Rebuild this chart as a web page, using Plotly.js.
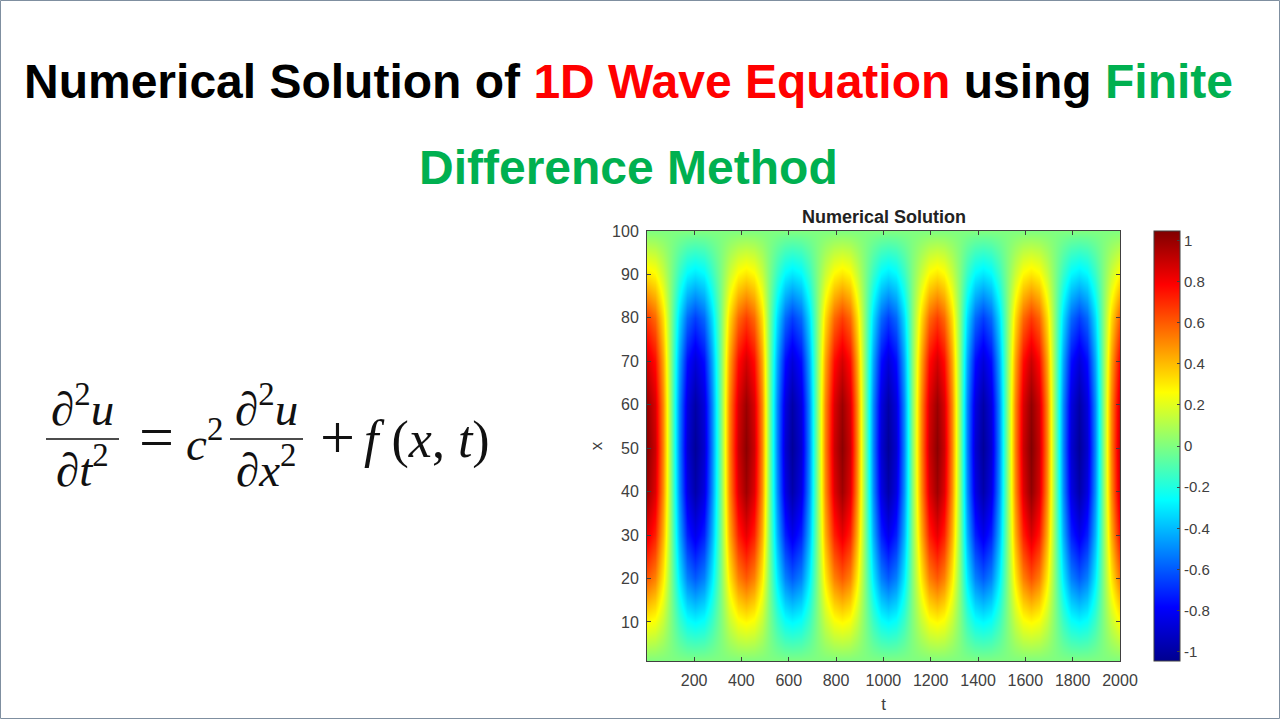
<!DOCTYPE html>
<html>
<head>
<meta charset="utf-8">
<script src="https://cdn.plot.ly/plotly-3.0.1.min.js"></script>
<style>html,body{margin:0;padding:0;background:#fff}#chart{width:1280px;height:720px}</style>
</head>
<body>
<div id="chart"></div>
<script>
const tValues = [1,35,69,103,137,171,205,241,277,313,348,384,420,453,485,518,550,583,615,650,685,720,755,790,825,858,890,923,955,988,1020,1054,1088,1123,1157,1191,1225,1258,1290,1323,1355,1388,1420,1454,1488,1523,1557,1591,1625,1658,1692,1725,1758,1792,1825,1859,1893,1928,1962,2000];
const xValues = [1,10,20,30,40,50,60,70,80,90,100];
const u_x1 = [0,0,0,0,0,0,0,0,0,0,0,0, 0,0,0,0,0,0,0,0,0,0,0,0, 0,0,0,0,0,0,0,0,0,0,0,0, 0,0,0,0,0,0,0,0,0,0,0,0, 0,0,0,0,0,0,0,0,0,0,0,0];
const u_x10 = [.27,.24,.14,0,-.14,-.24,-.27,-.24,-.14,0,.14,.24, .27,.24,.14,0,-.14,-.24,-.27,-.24,-.14,0,.14,.24, .27,.24,.14,0,-.14,-.24,-.27,-.24,-.14,0,.14,.24, .27,.24,.14,0,-.14,-.24,-.27,-.24,-.14,0,.14,.24, .27,.24,.14,0,-.14,-.24,-.27,-.24,-.14,0,.14,.26];
const u_x20 = [.60,.52,.30,0,-.30,-.52,-.60,-.52,-.30,0,.30,.52, .60,.52,.30,0,-.30,-.52,-.60,-.52,-.30,0,.30,.52, .60,.52,.30,0,-.30,-.52,-.60,-.52,-.30,0,.30,.52, .60,.52,.30,0,-.30,-.52,-.60,-.52,-.30,0,.30,.52, .62,.53,.30,0,-.30,-.52,-.60,-.52,-.30,0,.30,.55];
const u_x30 = [.83,.72,.42,0,-.42,-.72,-.83,-.72,-.42,0,.42,.72, .83,.72,.42,0,-.42,-.72,-.83,-.72,-.42,0,.42,.72, .83,.72,.42,0,-.42,-.72,-.83,-.72,-.42,0,.42,.72, .83,.72,.42,0,-.42,-.72,-.83,-.72,-.42,0,.42,.72, .86,.74,.42,0,-.42,-.72,-.83,-.72,-.42,0,.42,.77];
const u_x40 = [.98,.85,.49,0,-.49,-.85,-.98,-.85,-.49,0,.49,.85, .98,.85,.49,0,-.49,-.85,-.98,-.85,-.49,0,.49,.85, .98,.85,.49,0,-.49,-.85,-.98,-.85,-.49,0,.49,.85, .98,.85,.49,0,-.49,-.85,-.98,-.85,-.49,0,.49,.85, 1.01,.87,.49,0,-.49,-.85,-.98,-.85,-.49,0,.49,.90];
const u_x50 = [1.02,.89,.51,0,-.51,-.89,-1.02,-.89,-.51,0,.51,.89, 1.02,.89,.51,0,-.51,-.89,-1.02,-.89,-.51,0,.51,.89, 1.02,.89,.51,0,-.51,-.89,-1.02,-.89,-.51,0,.51,.89, 1.02,.89,.51,0,-.51,-.89,-1.02,-.89,-.51,0,.51,.89, 1.04,.90,.51,0,-.51,-.89,-1.02,-.89,-.51,0,.51,.93];
const u_x60 = [.99,.86,.50,0,-.50,-.86,-.99,-.86,-.50,0,.50,.86, .99,.86,.50,0,-.50,-.86,-.99,-.86,-.50,0,.50,.86, .99,.86,.50,0,-.50,-.86,-.99,-.86,-.50,0,.50,.86, .99,.86,.50,0,-.50,-.86,-.99,-.86,-.50,0,.50,.86, 1.01,.88,.50,0,-.50,-.86,-.99,-.86,-.50,0,.50,.90];
const u_x70 = [.87,.76,.44,0,-.44,-.76,-.87,-.76,-.44,0,.44,.76, .87,.76,.44,0,-.44,-.76,-.87,-.76,-.44,0,.44,.76, .87,.76,.44,0,-.44,-.76,-.87,-.76,-.44,0,.44,.76, .87,.76,.44,0,-.44,-.76,-.87,-.76,-.44,0,.44,.76, .89,.77,.44,0,-.44,-.76,-.87,-.76,-.44,0,.44,.80];
const u_x80 = [.66,.57,.33,0,-.33,-.57,-.66,-.57,-.33,0,.33,.57, .66,.57,.33,0,-.33,-.57,-.66,-.57,-.33,0,.33,.57, .66,.57,.33,0,-.33,-.57,-.66,-.57,-.33,0,.33,.57, .66,.57,.33,0,-.33,-.57,-.66,-.57,-.33,0,.33,.57, .67,.58,.33,0,-.33,-.57,-.66,-.57,-.33,0,.33,.60];
const u_x90 = [.31,.27,.15,0,-.15,-.27,-.31,-.27,-.15,0,.15,.27, .31,.27,.15,0,-.15,-.27,-.31,-.27,-.15,0,.15,.27, .31,.27,.15,0,-.15,-.27,-.31,-.27,-.15,0,.15,.27, .31,.27,.15,0,-.15,-.27,-.31,-.27,-.15,0,.15,.27, .31,.27,.15,0,-.15,-.27,-.31,-.27,-.15,0,.15,.28];
const u_x100 = [0,0,0,0,0,0,0,0,0,0,0,0, 0,0,0,0,0,0,0,0,0,0,0,0, 0,0,0,0,0,0,0,0,0,0,0,0, 0,0,0,0,0,0,0,0,0,0,0,0, 0,0,0,0,0,0,0,0,0,0,0,0];
const xTicks = [10,20,30,40,50,60,70,80,90,100];
const tTicks = [200,400,600,800,1000,1200,1400,1600,1800,2000];
const cbTicks = [1,0.8,0.6,0.4,0.2,0,-0.2,-0.4,-0.6,-0.8,-1];
const cbLabels = ['1','0.8','0.6','0.4','0.2','0','-0.2','-0.4','-0.6','-0.8','-1'];

const PL = 647, PR = 1120, PT = 231, PB = 661;
const px = v => (v - PL) / (PR - PL);
const py = v => 1 - (v - PT) / (PB - PT);
const SANS = '"Liberation Sans", Arial, sans-serif';
const SERIF = '"Liberation Serif", serif';
const TXT = '#404040';

const jet = [[0,'#00008f'],[0.125,'#0000ff'],[0.375,'#00ffff'],[0.625,'#ffff00'],[0.875,'#ff0000'],[1,'#800000']];

const trace = {
  type: 'heatmap', x: tValues, y: xValues,
  z: [u_x1,u_x10,u_x20,u_x30,u_x40,u_x50,u_x60,u_x70,u_x80,u_x90,u_x100],
  zsmooth: 'best', zmin: -1.045, zmax: 1.045, colorscale: jet,
  colorbar: {
    thicknessmode: 'pixels', thickness: 26, lenmode: 'pixels', len: 430,
    x: px(1154), xanchor: 'left', y: 1, yanchor: 'top',
    xpad: 0, ypad: 0, outlinecolor: TXT, outlinewidth: 1,
    tickmode: 'array', tickvals: cbTicks, ticktext: cbLabels,
    ticks: 'inside', ticklen: 3, tickcolor: TXT, tickwidth: 1,
    tickfont: {family: SANS, size: 15, color: TXT}
  }
};

function eq(text, x, y, size, anchor) {
  return {text, xref: 'paper', yref: 'paper', x: px(x), y: py(y), xanchor: anchor || 'center', yanchor: 'middle',
    showarrow: false, font: {family: SERIF, size: size || 47, color: '#111'}};
}
function head(text, x, y) {
  return {text, xref: 'paper', yref: 'paper', x: px(x), y: py(y), xanchor: 'center', yanchor: 'middle',
    showarrow: false, font: {family: SANS, size: 48, color: '#000', weight: 700}};
}
function bar(x0, x1, y) {
  return {type: 'line', xref: 'paper', yref: 'paper', x0: px(x0), x1: px(x1), y0: py(y), y1: py(y), line: {color: '#111', width: 1.5}};
}

const layout = {
  width: 1280, height: 720, autosize: false,
  margin: {l: PL, r: 1280 - PR, t: PT, b: 720 - PB, pad: 0},
  paper_bgcolor: '#fff', plot_bgcolor: '#fff', showlegend: false,
  title: {text: '<b>Numerical Solution</b>', x: 884/1280, xanchor: 'center', y: 1 - 217/720, yanchor: 'middle',
          font: {family: SANS, size: 18, color: '#222'}},
  xaxis: {range: [1, 2000], tickmode: 'array', tickvals: tTicks, ticks: 'inside', ticklen: 4, tickcolor: TXT,
          showline: true, linecolor: TXT, linewidth: 1, mirror: 'ticks', showgrid: false, zeroline: false,
          ticklabelstandoff: 5,
          tickfont: {family: SANS, size: 16, color: TXT},
          title: {text: 't', font: {family: SANS, size: 17, color: TXT}, standoff: 9}},
  yaxis: {range: [1, 100], tickmode: 'array', tickvals: xTicks, ticks: 'inside', ticklen: 4, tickcolor: TXT,
          showline: true, linecolor: TXT, linewidth: 1, mirror: 'ticks', showgrid: false, zeroline: false,
          ticklabelstandoff: 4,
          tickfont: {family: SANS, size: 16, color: TXT},
          title: {text: 'x', font: {family: SANS, size: 17, color: TXT}, standoff: 5}},
  annotations: [
    head('Numerical Solution of <span style="color:#ff0000">1D Wave Equation</span> using <span style="color:#00b050">Finite</span>', 628, 81),
    head('<span style="color:#00b050">Difference Method</span>', 628, 167),
    eq('<i>∂</i><sup>2</sup><i>u</i>', 82, 405),
    eq('<i>∂t</i><sup>2</sup>', 82, 466),
    eq('=', 156, 437, 62),
    eq('<i>c</i><sup>2</sup>', 204, 440),
    eq('<i>∂</i><sup>2</sup><i>u</i>', 266, 405),
    eq('<i>∂x</i><sup>2</sup>', 266, 466),
    eq('+', 337, 437, 62),
    eq('<i>f</i> (<i>x</i>, <i>t</i>)', 427, 440, 52)
  ],
  shapes: [
    bar(46, 119, 439),
    bar(230, 303, 439),
    {type: 'rect', xref: 'paper', yref: 'paper', x0: px(0.5), x1: px(1279.5), y0: py(0.5), y1: py(718.5), line: {color: '#7f8fa0', width: 1}, layer: 'below'}
  ]
};

Plotly.newPlot('chart', [trace], layout, {displayModeBar: false, responsive: false});
</script>
</body>
</html>
